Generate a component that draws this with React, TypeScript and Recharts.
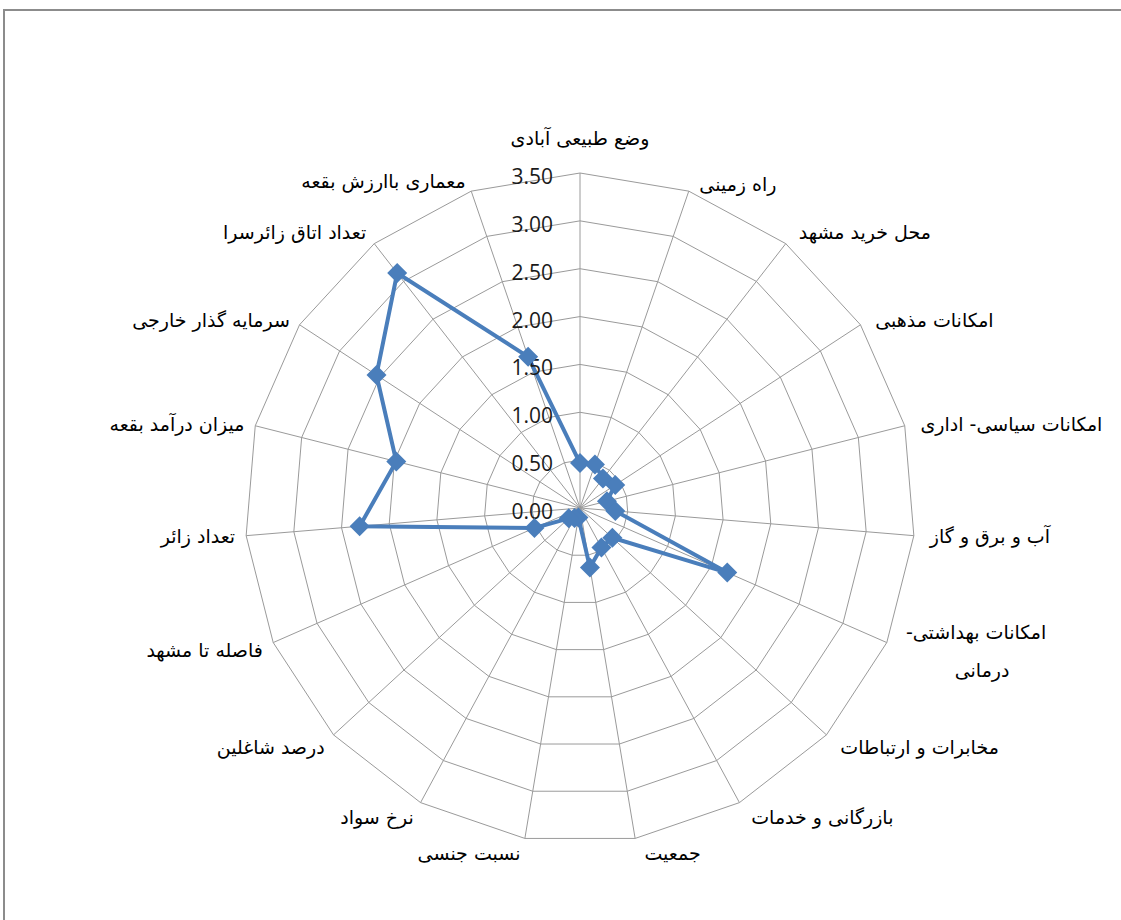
import React from "react";
import { RadarChart, Radar, PolarGrid, PolarAngleAxis, PolarRadiusAxis } from "recharts";

const categories: string[] = [
  "وضع طبیعی آبادی",
  "راه زمینی",
  "محل خرید مشهد",
  "امکانات مذهبی",
  "امکانات سیاسی- اداری",
  "آب و برق و گاز",
  "امکانات بهداشتی- درمانی",
  "مخابرات و ارتباطات",
  "بازرگانی و خدمات",
  "جمعیت",
  "نسبت جنسی",
  "نرخ سواد",
  "درصد شاغلین",
  "فاصله تا مشهد",
  "تعداد زائر",
  "میزان درآمد بقعه",
  "سرمایه گذار خارجی",
  "تعداد اتاق زائرسرا",
  "معماری باارزش بقعه",
];

const values: number[] = [
  0.47, 0.48, 0.39, 0.44, 0.29, 0.37, 1.68, 0.46, 0.47, 0.63,
  0.1, 0.12, 0.16, 0.52, 2.31, 1.98, 2.54, 3.11, 1.67,
];

const radiusMax = 3.5;
const radiusTickCount = 8;

const data = categories.map((c, i) => ({ category: c, value: values[i] }));

const LINE = "#4a7ebb";
const LABEL_FONT = "'DejaVu Sans', sans-serif";

const AngleTick = (props: any) => {
  const { x, y, payload, textAnchor } = props;
  const label: string = payload.value;
  const idx = categories.indexOf(label);
  const common = {
    fontFamily: LABEL_FONT,
    fontSize: 19,
    fill: "#000",
    dominantBaseline: "central" as const,
  };
  if (idx === 6) {
    const parts = label.split(" ");
    const first = parts.slice(0, 2).join(" ") + "\u200F";
    const second = parts.slice(2).join(" ");
    return (
      <g>
        <text x={x + 82} y={y - 14} textAnchor="middle" {...common}>{first}</text>
        <text x={x + 88} y={y + 24} textAnchor="middle" {...common}>{second}</text>
      </g>
    );
  }
  let dx = 0;
  if (textAnchor === "start") dx = 8;
  else if (textAnchor === "end") dx = -3;
  let dy = 0;
  if (idx === 0) dy = -27;
  else if (idx >= 7 && idx <= 12) dy = 7;
  else if (idx === 13) dy = 4;
  else if (idx === 2 || idx === 17) dy = -5;
  else if (idx === 18) dy = -3;
  return (
    <text x={x + dx} y={y + dy} textAnchor={textAnchor} {...common}>
      {label + "\u200F"}
    </text>
  );
};

const RadiusTick = (props: any) => {
  const { x, y, payload } = props;
  return (
    <text
      x={x - 27}
      y={y + 3}
      textAnchor="end"
      dominantBaseline="central"
      fontFamily="'Open Sans', sans-serif"
      fontSize={21}
      fill="#1a1a1a"
    >
      {Number(payload.value).toFixed(2)}
    </text>
  );
};

const Diamond = (props: any) => {
  const { cx, cy } = props;
  if (cx == null || cy == null) return null;
  const s = 10;
  return (
    <polygon
      points={`${cx},${cy - s} ${cx + s},${cy} ${cx},${cy + s} ${cx - s},${cy}`}
      fill={LINE}
      stroke="none"
    />
  );
};

export default function App() {
  return (
    <div
      style={{
        position: "absolute",
        left: 0,
        top: 0,
        width: 1121,
        height: 920,
        overflow: "hidden",
        background: "#fff",
      }}
    >
      <div
        style={{
          position: "absolute",
          left: 3,
          top: 9,
          width: 1300,
          height: 1100,
          border: "2px solid #8c8c8c",
          boxSizing: "border-box",
        }}
      />
      <div style={{ position: "absolute", left: 0, top: 0 }}>
        <RadarChart
          width={1121}
          height={920}
          data={data}
          cx={580}
          cy={508}
          outerRadius={335}
          margin={{ top: 0, right: 0, bottom: 0, left: 0 }}
        >
          <PolarGrid gridType="polygon" stroke="#9a9a9a" strokeWidth={1} />
          <PolarAngleAxis
            dataKey="category"
            tick={<AngleTick />}
            tickLine={false}
            axisLine={false}
          />
          <PolarRadiusAxis
            angle={90}
            type="number"
            domain={[0, radiusMax]}
            allowDataOverflow
            allowDecimals
            tickCount={radiusTickCount}
            axisLine={false}
            tickLine={false}
            tick={<RadiusTick />}
          />
          <Radar
            dataKey="value"
            stroke={LINE}
            strokeWidth={4}
            fill="none"
            fillOpacity={0}
            dot={<Diamond />}
            isAnimationActive={false}
          />
        </RadarChart>
      </div>
    </div>
  );
}
